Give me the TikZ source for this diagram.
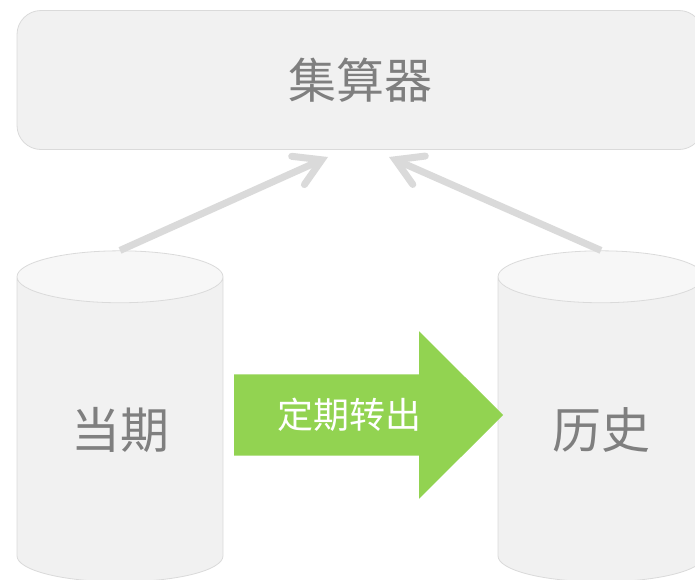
\documentclass[tikz,border=0pt]{standalone}
\usepackage{fontspec}
\usetikzlibrary{arrows.meta,shapes.geometric,shapes.arrows}
\setmainfont{Noto Sans CJK SC}
\definecolor{boxfill}{HTML}{F1F1F1}
\definecolor{boxline}{HTML}{DADADA}
\definecolor{boxtop}{HTML}{F7F7F7}
\definecolor{labelgray}{HTML}{7F7F7F}
\definecolor{movegreen}{HTML}{92D351}
\tikzset{
  calcbox/.style={draw=boxline,fill=boxfill,line width=0.8pt,rounded corners=24pt,
    minimum width=686pt,minimum height=139pt,text=labelgray,font=\fontsize{48}{48}\selectfont},
  store/.style={cylinder,shape border rotate=90,draw=boxline,line width=0.8pt,
    cylinder uses custom fill,cylinder body fill=boxfill,cylinder end fill=boxtop,
    shape aspect=0.53,minimum width=206pt,minimum height=331pt,inner sep=0pt,
    text=labelgray,font=\fontsize{49}{49}\selectfont},
  feed/.style={draw=boxline,line width=7pt,
    -{Straight Barb[line cap=round,length=26pt,width=31pt]}},
  moveout/.style={single arrow,fill=movegreen,anchor=tail,inner xsep=0pt,inner ysep=40.5pt,
    minimum height=269pt,minimum width=167pt,single arrow head extend=43pt,
    single arrow tip angle=89.7},
  movetext/.style={text=white,font=\fontsize{36}{36}\selectfont}
}
\begin{document}
\begin{tikzpicture}[x=1pt,y=-1pt]
    \useasboundingbox (0,0) rectangle (695,579);
    \clip (0,0) rectangle (695,579);
    % Nodes:
    \node[calcbox] (calc) at (360,80) {集算器};
    \node[store] (current) at (120,429.5) {当期};
    \node[store] (history) at (601,429.5) {历史};
    \node[moveout] (move) at (234,415) {};
    % Labels:
    \node[movetext] (movelabel) at (349,415) {定期转出};
    % Arrows:
    \coordinate (calcleft) at (328,157);
    \coordinate (calcright) at (389,157);
    \draw[feed] (current.north) -- (calcleft);
    \draw[feed] (history.north) -- (calcright);
\end{tikzpicture}
\end{document}
